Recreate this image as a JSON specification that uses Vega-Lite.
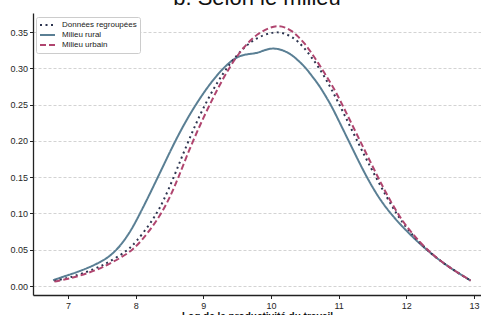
{
  "$schema": "https://vega.github.io/schema/vega-lite/v6.json",
  "autosize": {"type": "none"},
  "width": 448,
  "height": 282,
  "padding": {"left": 33, "top": 13, "right": 0, "bottom": 20},
  "background": "white",
  "title": {"text": "b. Selon le milieu", "fontSize": 22, "font": "Liberation Sans", "fontWeight": "normal", "anchor": "middle", "baseline": "alphabetic", "offset": 0, "dy": 14, "color": "#111"},
  "config": {
    "view": {"stroke": null},
    "axis": {"labelFont": "Liberation Sans", "labelFontSize": 9, "labelColor": "#262626", "titleFont": "Liberation Sans", "domainColor": "#222", "domainWidth": 1.3, "tickColor": "#222", "tickSize": 3.5, "tickWidth": 1}
  },
  "data": {"values": [
    {"s": "Milieu rural", "x": 6.78, "y": 0.008},
    {"s": "Milieu rural", "x": 7.0, "y": 0.015},
    {"s": "Milieu rural", "x": 7.1, "y": 0.018},
    {"s": "Milieu rural", "x": 7.3, "y": 0.025},
    {"s": "Milieu rural", "x": 7.5, "y": 0.034},
    {"s": "Milieu rural", "x": 7.6, "y": 0.040},
    {"s": "Milieu rural", "x": 7.72, "y": 0.050},
    {"s": "Milieu rural", "x": 7.8, "y": 0.059},
    {"s": "Milieu rural", "x": 7.9, "y": 0.072},
    {"s": "Milieu rural", "x": 8.0, "y": 0.088},
    {"s": "Milieu rural", "x": 8.2, "y": 0.125},
    {"s": "Milieu rural", "x": 8.4, "y": 0.164},
    {"s": "Milieu rural", "x": 8.6, "y": 0.203},
    {"s": "Milieu rural", "x": 8.8, "y": 0.237},
    {"s": "Milieu rural", "x": 9.0, "y": 0.266},
    {"s": "Milieu rural", "x": 9.2, "y": 0.291},
    {"s": "Milieu rural", "x": 9.4, "y": 0.310},
    {"s": "Milieu rural", "x": 9.55, "y": 0.318},
    {"s": "Milieu rural", "x": 9.7, "y": 0.320},
    {"s": "Milieu rural", "x": 9.8, "y": 0.321},
    {"s": "Milieu rural", "x": 9.9, "y": 0.325},
    {"s": "Milieu rural", "x": 10.0, "y": 0.3275},
    {"s": "Milieu rural", "x": 10.1, "y": 0.327},
    {"s": "Milieu rural", "x": 10.2, "y": 0.324},
    {"s": "Milieu rural", "x": 10.3, "y": 0.319},
    {"s": "Milieu rural", "x": 10.4, "y": 0.311},
    {"s": "Milieu rural", "x": 10.5, "y": 0.302},
    {"s": "Milieu rural", "x": 10.6, "y": 0.290},
    {"s": "Milieu rural", "x": 10.7, "y": 0.278},
    {"s": "Milieu rural", "x": 10.8, "y": 0.263},
    {"s": "Milieu rural", "x": 10.9, "y": 0.247},
    {"s": "Milieu rural", "x": 11.0, "y": 0.228},
    {"s": "Milieu rural", "x": 11.2, "y": 0.190},
    {"s": "Milieu rural", "x": 11.4, "y": 0.152},
    {"s": "Milieu rural", "x": 11.6, "y": 0.120},
    {"s": "Milieu rural", "x": 11.8, "y": 0.096},
    {"s": "Milieu rural", "x": 12.0, "y": 0.076},
    {"s": "Milieu rural", "x": 12.2, "y": 0.058},
    {"s": "Milieu rural", "x": 12.4, "y": 0.042},
    {"s": "Milieu rural", "x": 12.6, "y": 0.028},
    {"s": "Milieu rural", "x": 12.8, "y": 0.016},
    {"s": "Milieu rural", "x": 12.95, "y": 0.0075},
    {"s": "Données regroupées", "x": 6.8, "y": 0.007},
    {"s": "Données regroupées", "x": 7.0, "y": 0.011},
    {"s": "Données regroupées", "x": 7.1, "y": 0.014},
    {"s": "Données regroupées", "x": 7.3, "y": 0.020},
    {"s": "Données regroupées", "x": 7.5, "y": 0.028},
    {"s": "Données regroupées", "x": 7.6, "y": 0.033},
    {"s": "Données regroupées", "x": 7.8, "y": 0.044},
    {"s": "Données regroupées", "x": 7.9, "y": 0.051},
    {"s": "Données regroupées", "x": 8.0, "y": 0.060},
    {"s": "Données regroupées", "x": 8.2, "y": 0.084},
    {"s": "Données regroupées", "x": 8.31, "y": 0.100},
    {"s": "Données regroupées", "x": 8.4, "y": 0.115},
    {"s": "Données regroupées", "x": 8.56, "y": 0.149},
    {"s": "Données regroupées", "x": 8.7, "y": 0.182},
    {"s": "Données regroupées", "x": 8.85, "y": 0.215},
    {"s": "Données regroupées", "x": 9.0, "y": 0.246},
    {"s": "Données regroupées", "x": 9.2, "y": 0.280},
    {"s": "Données regroupées", "x": 9.4, "y": 0.308},
    {"s": "Données regroupées", "x": 9.6, "y": 0.329},
    {"s": "Données regroupées", "x": 9.8, "y": 0.343},
    {"s": "Données regroupées", "x": 10.0, "y": 0.349},
    {"s": "Données regroupées", "x": 10.1, "y": 0.350},
    {"s": "Données regroupées", "x": 10.2, "y": 0.348},
    {"s": "Données regroupées", "x": 10.3, "y": 0.344},
    {"s": "Données regroupées", "x": 10.4, "y": 0.337},
    {"s": "Données regroupées", "x": 10.5, "y": 0.327},
    {"s": "Données regroupées", "x": 10.6, "y": 0.315},
    {"s": "Données regroupées", "x": 10.7, "y": 0.302},
    {"s": "Données regroupées", "x": 10.8, "y": 0.287},
    {"s": "Données regroupées", "x": 10.9, "y": 0.270},
    {"s": "Données regroupées", "x": 11.0, "y": 0.252},
    {"s": "Données regroupées", "x": 11.2, "y": 0.214},
    {"s": "Données regroupées", "x": 11.4, "y": 0.176},
    {"s": "Données regroupées", "x": 11.55, "y": 0.150},
    {"s": "Données regroupées", "x": 11.7, "y": 0.124},
    {"s": "Données regroupées", "x": 11.85, "y": 0.100},
    {"s": "Données regroupées", "x": 12.0, "y": 0.080},
    {"s": "Données regroupées", "x": 12.2, "y": 0.059},
    {"s": "Données regroupées", "x": 12.4, "y": 0.042},
    {"s": "Données regroupées", "x": 12.6, "y": 0.028},
    {"s": "Données regroupées", "x": 12.8, "y": 0.016},
    {"s": "Données regroupées", "x": 12.95, "y": 0.0075},
    {"s": "Milieu urbain", "x": 6.8, "y": 0.006},
    {"s": "Milieu urbain", "x": 7.0, "y": 0.010},
    {"s": "Milieu urbain", "x": 7.1, "y": 0.012},
    {"s": "Milieu urbain", "x": 7.3, "y": 0.018},
    {"s": "Milieu urbain", "x": 7.5, "y": 0.025},
    {"s": "Milieu urbain", "x": 7.6, "y": 0.030},
    {"s": "Milieu urbain", "x": 7.8, "y": 0.040},
    {"s": "Milieu urbain", "x": 7.96, "y": 0.050},
    {"s": "Milieu urbain", "x": 8.1, "y": 0.064},
    {"s": "Milieu urbain", "x": 8.25, "y": 0.082},
    {"s": "Milieu urbain", "x": 8.38, "y": 0.100},
    {"s": "Milieu urbain", "x": 8.5, "y": 0.121},
    {"s": "Milieu urbain", "x": 8.63, "y": 0.149},
    {"s": "Milieu urbain", "x": 8.8, "y": 0.190},
    {"s": "Milieu urbain", "x": 9.0, "y": 0.232},
    {"s": "Milieu urbain", "x": 9.2, "y": 0.270},
    {"s": "Milieu urbain", "x": 9.4, "y": 0.304},
    {"s": "Milieu urbain", "x": 9.6, "y": 0.330},
    {"s": "Milieu urbain", "x": 9.8, "y": 0.348},
    {"s": "Milieu urbain", "x": 10.0, "y": 0.357},
    {"s": "Milieu urbain", "x": 10.1, "y": 0.3585},
    {"s": "Milieu urbain", "x": 10.2, "y": 0.357},
    {"s": "Milieu urbain", "x": 10.3, "y": 0.352},
    {"s": "Milieu urbain", "x": 10.4, "y": 0.344},
    {"s": "Milieu urbain", "x": 10.5, "y": 0.334},
    {"s": "Milieu urbain", "x": 10.6, "y": 0.321},
    {"s": "Milieu urbain", "x": 10.7, "y": 0.307},
    {"s": "Milieu urbain", "x": 10.8, "y": 0.292},
    {"s": "Milieu urbain", "x": 10.9, "y": 0.277},
    {"s": "Milieu urbain", "x": 11.0, "y": 0.260},
    {"s": "Milieu urbain", "x": 11.2, "y": 0.222},
    {"s": "Milieu urbain", "x": 11.4, "y": 0.184},
    {"s": "Milieu urbain", "x": 11.58, "y": 0.150},
    {"s": "Milieu urbain", "x": 11.7, "y": 0.128},
    {"s": "Milieu urbain", "x": 11.87, "y": 0.100},
    {"s": "Milieu urbain", "x": 12.0, "y": 0.082},
    {"s": "Milieu urbain", "x": 12.2, "y": 0.060},
    {"s": "Milieu urbain", "x": 12.4, "y": 0.042},
    {"s": "Milieu urbain", "x": 12.6, "y": 0.028},
    {"s": "Milieu urbain", "x": 12.8, "y": 0.016},
    {"s": "Milieu urbain", "x": 12.95, "y": 0.0075}
  ]},
  "mark": {"type": "line", "interpolate": "basis", "strokeWidth": 2},
  "encoding": {
    "x": {"field": "x", "type": "quantitative",
      "scale": {"domain": [6.483, 13.103], "nice": false, "zero": false},
      "axis": {"values": [7, 8, 9, 10, 11, 12, 13], "grid": false, "title": "Log de la productivité du travail", "titleFontSize": 10, "titleFontWeight": "bold", "titleColor": "#111", "titlePadding": 1, "labelPadding": 2.5}},
    "y": {"field": "y", "type": "quantitative",
      "scale": {"domain": [-0.0124, 0.3762], "nice": false, "zero": false},
      "axis": {"values": [0, 0.05, 0.1, 0.15, 0.2, 0.25, 0.3, 0.35], "format": ".2f", "title": null, "grid": true, "gridColor": "#c8c8c8", "gridDash": [3, 2], "gridWidth": 0.8, "labelPadding": 2}},
    "color": {"field": "s", "type": "nominal",
      "scale": {"domain": ["Données regroupées", "Milieu rural", "Milieu urbain"], "range": ["#2d3550", "#5a7f94", "#b0456f"]},
      "legend": {"title": null, "orient": "none", "legendX": 3, "legendY": 4, "symbolType": "stroke", "symbolStrokeWidth": 2, "symbolSize": 225, "clipHeight": 10, "labelFont": "Liberation Sans", "labelFontSize": 8, "labelColor": "#222", "rowPadding": 0, "padding": 3, "fillColor": "white", "strokeColor": "#cccccc", "cornerRadius": 2, "labelOffset": 6}},
    "strokeDash": {"field": "s", "type": "nominal",
      "scale": {"domain": ["Données regroupées", "Milieu rural", "Milieu urbain"], "range": [[2, 3.5], [1, 0], [6, 3]]},
      "legend": null}
  }
}
